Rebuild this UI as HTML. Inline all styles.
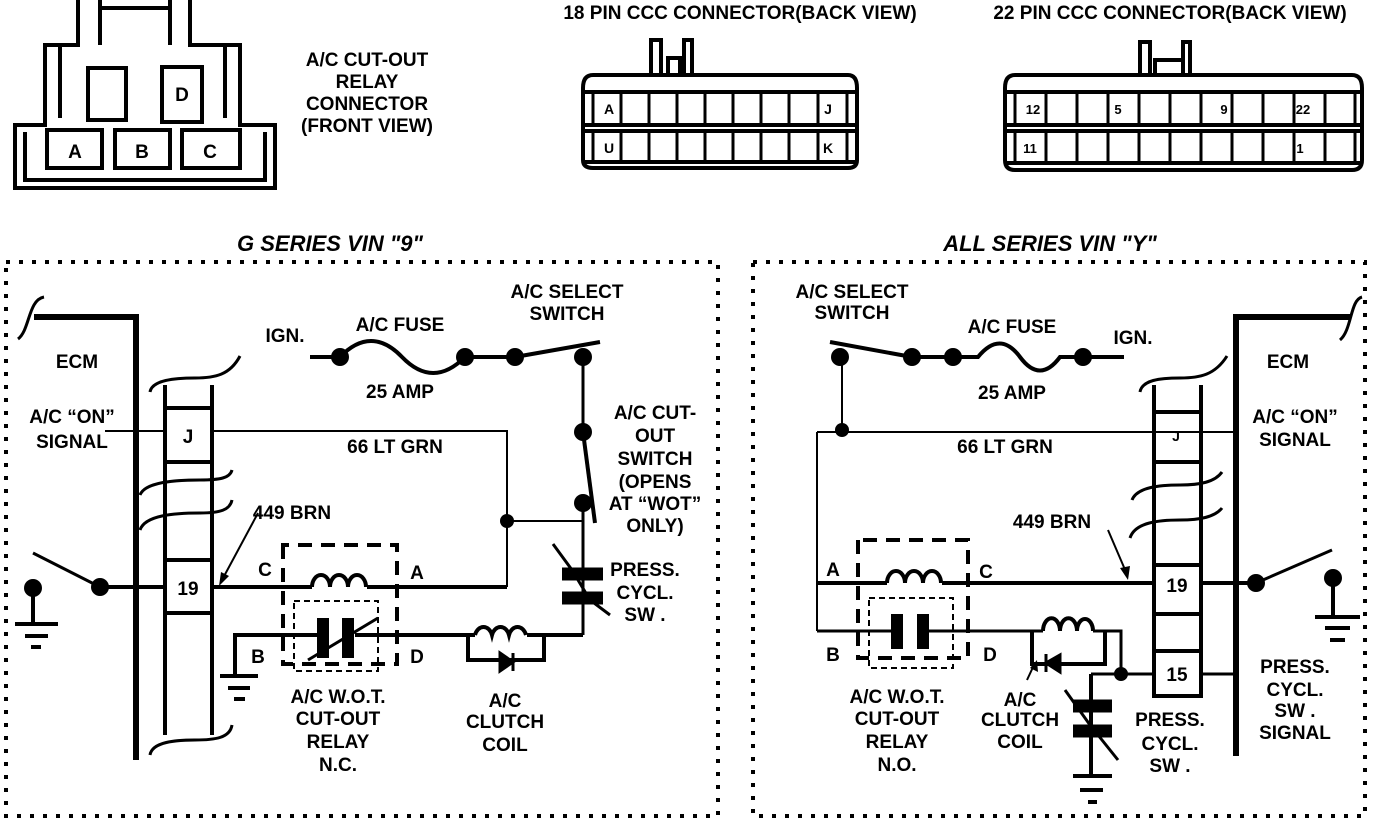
<!DOCTYPE html>
<html><head><meta charset="utf-8"><style>
html,body{margin:0;padding:0;background:#fff;}
svg{display:block;}
text{font-family:"Liberation Sans Narrow","Liberation Sans",sans-serif;font-weight:bold;font-size:19px;fill:#000;text-anchor:middle;}
</style></head><body>
<svg width="1392" height="822" viewBox="0 0 1392 822" xmlns="http://www.w3.org/2000/svg">
<g fill="none" stroke="#000" stroke-width="4">
<!-- Relay connector -->
<path d="M78,0 V45 H45 V125 H15 V188 H275 V125 H240 V45 H190 V0"/>
<path d="M100,0 V8 H170 V0 M100,8 V45 M170,8 V45"/>
<path d="M25,132 V180 H265 V132 M60,45 V118 M225,45 V118"/>
<rect x="88" y="68" width="38" height="52"/>
<rect x="162" y="67" width="40" height="55"/>
<rect x="47" y="130" width="55" height="38"/>
<rect x="115" y="130" width="55" height="38"/>
<rect x="182" y="130" width="58" height="38"/>
<!-- 18 pin -->
<path d="M651,75 V40 H661 V75 M668,75 V58 H680 V75 M684,75 V40 H692 V75"/>
<path d="M593,75 H848 Q857,75 857,88 V160 Q857,168 848,168 H593 Q583,168 583,160 V88 Q583,75 593,75Z"/>
<path d="M583,92 H857 M583,125 H857 M583,131 H857 M583,162 H857"/>
<!-- 22 pin -->
<path d="M1140,75 V42 H1150 V75 M1155,75 V60 H1183 V75 M1183,75 V42 H1190 V75"/>
<path d="M1015,75 H1352 Q1362,75 1362,88 V160 Q1362,170 1352,170 H1015 Q1005,170 1005,160 V88 Q1005,75 1015,75Z"/>
<path d="M1005,92 H1362 M1005,125 H1362 M1005,131 H1362 M1005,163 H1362"/>
</g>
<g stroke="#000" stroke-width="3" fill="none">
<path d="M593,92V125M621,92V125M649,92V125M677,92V125M705,92V125M733,92V125M761,92V125M789,92V125M818,92V125M847,92V125"/>
<path d="M593,131V162M621,131V162M649,131V162M677,131V162M705,131V162M733,131V162M761,131V162M789,131V162M818,131V162M847,131V162"/>
<path d="M1015,92V125M1046,92V125M1077,92V125M1108,92V125M1139,92V125M1170,92V125M1201,92V125M1232,92V125M1263,92V125M1294,92V125M1325,92V125M1355,92V125"/>
<path d="M1015,131V163M1046,131V163M1077,131V163M1108,131V163M1139,131V163M1170,131V163M1201,131V163M1232,131V163M1263,131V163M1294,131V163M1325,131V163M1355,131V163"/>
</g>
<g style="font-size:16px">
<text x="75" y="158">A</text><text x="142" y="158">B</text><text x="210" y="158">C</text><text x="182" y="101">D</text>
<text x="609" y="114" style="font-size:14px">A</text><text x="828" y="114" style="font-size:14px">J</text>
<text x="609" y="153" style="font-size:14px">U</text><text x="828" y="153" style="font-size:14px">K</text>
<text x="1033" y="114" style="font-size:13px">12</text><text x="1118" y="114" style="font-size:13px">5</text><text x="1224" y="114" style="font-size:13px">9</text><text x="1303" y="114" style="font-size:13px">22</text>
<text x="1030" y="153" style="font-size:13px">11</text><text x="1300" y="153" style="font-size:13px">1</text>
</g>
<text x="367" y="66">A/C CUT-OUT</text><text x="367" y="88">RELAY</text><text x="367" y="110">CONNECTOR</text><text x="367" y="132">(FRONT VIEW)</text>
<text x="740" y="19">18 PIN CCC CONNECTOR(BACK VIEW)</text>
<text x="1170" y="19">22 PIN  CCC CONNECTOR(BACK VIEW)</text>
<text x="330" y="251" style="font-style:italic;font-size:22px">G SERIES VIN "9"</text>
<text x="1050" y="251" style="font-style:italic;font-size:22px">ALL SERIES VIN "Y"</text>

<!-- dotted borders -->
<g fill="none" stroke="#000" stroke-width="4" stroke-dasharray="4 9">
<rect x="6" y="262" width="712" height="554"/>
<rect x="753" y="262" width="612" height="554"/>
</g>

<!-- LEFT DIAGRAM -->
<g fill="none" stroke="#000">
<path d="M34,317 H136 V760" stroke-width="6"/>
<path d="M18,339 C30,330 28,300 44,297" stroke-width="3"/>
<path d="M165,385 V735 M212,385 V735" stroke-width="4"/>
<path d="M150,392 C152,380 175,378 195,378 C215,378 230,375 240,356" stroke-width="3"/>
<path d="M150,755 C152,742 175,740 195,740 C215,740 230,738 232,725" stroke-width="3"/>
<path d="M140,495 C145,482 175,480 200,480 C220,480 230,478 232,470 M140,530 C145,515 175,513 200,513 C220,513 230,510 232,500" stroke-width="3" />
<path d="M165,408 H212 M165,462 H212 M165,560 H212 M165,613 H212" stroke-width="4"/>
<path d="M105,431 H165 M212,431 H507 V587 M507,521 H583" stroke-width="2"/>
<path d="M100,587 H165 M212,587 H312 M367,587 H507" stroke-width="4"/>
<path d="M312,587 a9,12 0 0 1 18,0 a9,12 0 0 1 18,0 a9,12 0 0 1 18,0" stroke-width="4"/>
<path d="M100,587 L33,553" stroke-width="3"/>
<path d="M33,588 V624 M15,624 H58 M25,636 H48 M31,647 H41" stroke-width="4"/>
<path d="M283,545 V664 H397 V545 Z" stroke-width="4" stroke-dasharray="14 9"/>
<path d="M294,601 H378 V671 H294 Z" stroke-width="2" stroke-dasharray="6 4"/>
<path d="M235,676 V635 H323 M355,635 H475 M527,635 H583" stroke-width="4"/>
<path d="M220,676 H258 M228,688 H250 M234,699 H245" stroke-width="4"/>
<path d="M323,618 V658 M348,618 V658" stroke-width="12"/>
<path d="M308,660 L378,618" stroke-width="3"/>
<path d="M475,635 a9,12 0 0 1 17,0 a9,12 0 0 1 17,0 a9,12 0 0 1 17,0" stroke-width="4"/>
<path d="M468,635 V660 H544 V635" stroke-width="4"/>
<path d="M310,357 H340 M465,357 H515" stroke-width="4"/>
<path d="M340,357 Q371,325 402,357 T465,357" stroke-width="4"/>
<path d="M515,357 L600,342" stroke-width="4"/>
<path d="M583,357 V432 M583,503 V635" stroke-width="3"/>
<path d="M583,432 L595,523" stroke-width="4"/>
<path d="M553,544 L572,570 L590,600 L610,615" stroke-width="3"/>
<path d="M562,574 H603 M562,598 H603" stroke-width="13"/>
<path d="M258,513 L222,580" stroke-width="2"/>
</g>
<path d="M500,653 L500,671 L513,662 Z M513,653 V671" fill="#000" stroke="#000" stroke-width="3"/>
<path d="M219,586 L221,572 L229,576 Z" fill="#000"/>
<g fill="#000">
<circle cx="340" cy="357" r="9"/><circle cx="465" cy="357" r="9"/><circle cx="515" cy="357" r="9"/><circle cx="583" cy="357" r="9"/>
<circle cx="583" cy="432" r="9"/><circle cx="583" cy="503" r="9"/><circle cx="507" cy="521" r="7"/>
<circle cx="100" cy="587" r="9"/><circle cx="33" cy="588" r="9"/>
</g>
<text x="77" y="368">ECM</text>
<text x="72" y="423">A/C “ON”</text><text x="72" y="448">SIGNAL</text>
<text x="188" y="443">J</text><text x="188" y="595">19</text>
<text x="285" y="342">IGN.</text><text x="400" y="331">A/C FUSE</text><text x="400" y="398">25  AMP</text>
<text x="567" y="298">A/C SELECT</text><text x="567" y="320">SWITCH</text>
<text x="395" y="453">66 LT GRN</text><text x="292" y="519">449 BRN</text>
<text x="655" y="419">A/C CUT-</text><text x="655" y="442">OUT</text><text x="655" y="465">SWITCH</text><text x="655" y="488">(OPENS</text><text x="655" y="510">AT “WOT”</text><text x="655" y="532">ONLY)</text>
<text x="645" y="576">PRESS.</text><text x="645" y="599">CYCL.</text><text x="645" y="621">SW .</text>
<text x="265" y="576">C</text><text x="417" y="579">A</text><text x="258" y="663">B</text><text x="417" y="663">D</text>
<text x="338" y="703">A/C W.O.T.</text><text x="338" y="725">CUT-OUT</text><text x="338" y="748">RELAY</text><text x="338" y="771">N.C.</text>
<text x="505" y="707">A/C</text><text x="505" y="728">CLUTCH</text><text x="505" y="751">COIL</text>

<!-- RIGHT DIAGRAM -->
<g fill="none" stroke="#000">
<path d="M1350,317 H1236 V756" stroke-width="6"/>
<path d="M1340,340 C1352,330 1350,300 1362,297" stroke-width="3"/>
<path d="M1154,385 V696 H1201 V385" stroke-width="4"/>
<path d="M1140,392 C1142,380 1160,378 1180,378 C1200,378 1215,375 1227,356" stroke-width="3"/>
<path d="M1132,500 C1137,487 1160,485 1180,485 C1200,485 1215,482 1222,472 M1130,538 C1135,522 1160,520 1180,520 C1200,520 1215,517 1222,508" stroke-width="3"/>
<path d="M1154,412 H1201 M1154,462 H1201 M1154,565 H1201 M1154,614 H1201 M1154,651 H1201" stroke-width="4"/>
<path d="M817,432 H1236 M817,432 V631 M842,357 V432" stroke-width="2"/>
<path d="M817,583 H887 M942,583 H1154 M1201,583 H1256" stroke-width="4"/>
<path d="M887,583 a9,12 0 0 1 18,0 a9,12 0 0 1 18,0 a9,12 0 0 1 18,0" stroke-width="4"/>
<path d="M1256,583 L1332,550" stroke-width="3"/>
<path d="M1333,578 V617 M1315,617 H1360 M1325,628 H1350 M1330,640 H1345" stroke-width="4"/>
<path d="M858,540 V658 H968 V540 Z" stroke-width="4" stroke-dasharray="14 9"/>
<path d="M869,598 H953 V668 H869 Z" stroke-width="2" stroke-dasharray="6 4"/>
<path d="M817,631 H891 M929,631 H1043 M1093,631 H1121 V674 M1091,674 H1154 M1201,674 H1236" stroke-width="3"/>
<path d="M1043,631 a8,12 0 0 1 17,0 a8,12 0 0 1 17,0 a8,12 0 0 1 16,0" stroke-width="4"/>
<path d="M1032,631 V664 H1105 V631" stroke-width="4"/>
<path d="M897,614 V649 M923,614 V649" stroke-width="12"/>
<path d="M1091,674 V776 M1073,776 H1112 M1080,790 H1103 M1088,802 H1097" stroke-width="4"/>
<path d="M1073,706 H1112 M1073,731 H1112" stroke-width="13"/>
<path d="M1065,690 L1090,725 L1118,760" stroke-width="3"/>
<path d="M912,357 H953 M1083,357 H1124" stroke-width="4"/>
<path d="M953,357 H978 Q1000,330 1020,357 T1060,357 H1083" stroke-width="4"/>
<path d="M912,357 L830,342" stroke-width="4"/>
<path d="M1108,530 L1126,572" stroke-width="2"/>
<path d="M1027,680 L1034,665" stroke-width="2"/>
</g>
<path d="M1060,655 L1060,672 L1046,663 Z M1046,654 V672" fill="#000" stroke="#000" stroke-width="3"/>
<path d="M1128,580 L1120,568 L1130,566 Z M1037,660 L1038,672 L1030,668 Z" fill="#000"/>
<g fill="#000">
<circle cx="840" cy="357" r="9"/><circle cx="912" cy="357" r="9"/><circle cx="953" cy="357" r="9"/><circle cx="1083" cy="357" r="9"/>
<circle cx="842" cy="430" r="7"/><circle cx="1121" cy="674" r="7"/>
<circle cx="1256" cy="583" r="9"/><circle cx="1333" cy="578" r="9"/>
</g>
<text x="1288" y="368">ECM</text>
<text x="1295" y="423">A/C “ON”</text><text x="1295" y="446">SIGNAL</text>
<text x="1176" y="441" style="font-size:14px">J</text><text x="1177" y="592">19</text><text x="1177" y="681">15</text>
<text x="852" y="298">A/C SELECT</text><text x="852" y="319">SWITCH</text>
<text x="1012" y="333">A/C FUSE</text><text x="1133" y="344">IGN.</text><text x="1012" y="399">25  AMP</text>
<text x="1005" y="453">66 LT GRN</text><text x="1052" y="528">449 BRN</text>
<text x="833" y="576">A</text><text x="986" y="578">C</text><text x="833" y="661">B</text><text x="990" y="661">D</text>
<text x="897" y="703">A/C W.O.T.</text><text x="897" y="725">CUT-OUT</text><text x="897" y="748">RELAY</text><text x="897" y="771">N.O.</text>
<text x="1020" y="706">A/C</text><text x="1020" y="726">CLUTCH</text><text x="1020" y="748">COIL</text>
<text x="1170" y="726">PRESS.</text><text x="1170" y="750">CYCL.</text><text x="1170" y="772">SW .</text>
<text x="1295" y="673">PRESS.</text><text x="1295" y="696">CYCL.</text><text x="1295" y="717">SW .</text><text x="1295" y="739">SIGNAL</text>
</svg>
</body></html>
